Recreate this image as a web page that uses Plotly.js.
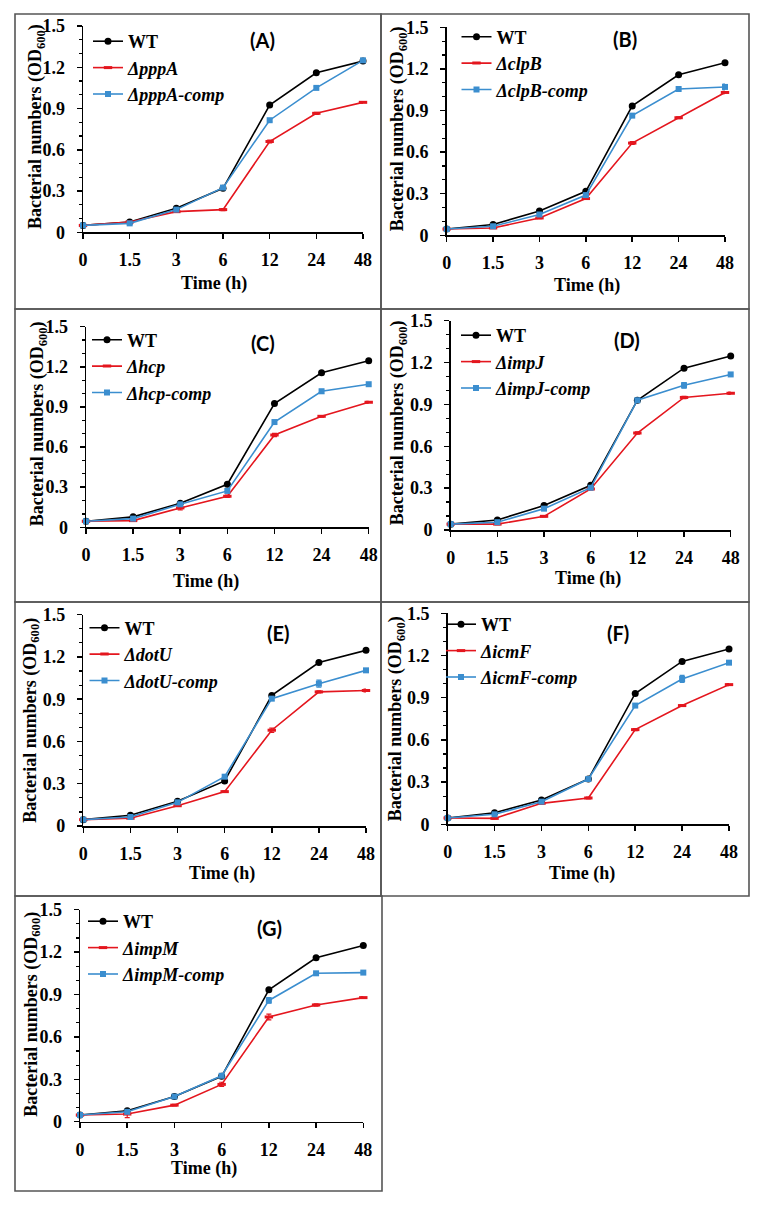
<!DOCTYPE html>
<html>
<head>
<meta charset="utf-8">
<script src="https://cdn.plot.ly/plotly-3.0.1.min.js"></script>
<style>html,body{margin:0;padding:0;background:#fff}#chart{width:763px;height:1206px}</style>
</head>
<body>
<div id="chart"></div>
<script>
// ---------- DATA ----------
const timeLabels = ["0", "1.5", "3", "6", "12", "24", "48"];
const panelLetters = ["(A)", "(B)", "(C)", "(D)", "(E)", "(F)", "(G)"];
const genes = ["pppA", "clpB", "hcp", "impJ", "dotU", "icmF", "impM"];

const wtA   = [0.050, 0.075, 0.175, 0.320, 0.925, 1.160, 1.245];
const mutA  = [0.050, 0.075, 0.150, 0.165, 0.660, 0.865, 0.945];
const compA = [0.050, 0.065, 0.165, 0.325, 0.815, 1.050, 1.250];

const wtB   = [0.045, 0.078, 0.175, 0.317, 0.933, 1.158, 1.245];
const mutB  = [0.045, 0.053, 0.125, 0.265, 0.665, 0.848, 1.030];
const compB = [0.045, 0.065, 0.150, 0.290, 0.863, 1.055, 1.070];

const wtC   = [0.045, 0.078, 0.180, 0.322, 0.925, 1.155, 1.245];
const mutC  = [0.045, 0.050, 0.145, 0.232, 0.690, 0.830, 0.935];
const compC = [0.045, 0.065, 0.172, 0.272, 0.787, 1.017, 1.070];

const wtD   = [0.042, 0.072, 0.175, 0.320, 0.930, 1.160, 1.247];
const mutD  = [0.042, 0.042, 0.098, 0.294, 0.695, 0.950, 0.980];
const compD = [0.042, 0.056, 0.153, 0.303, 0.930, 1.037, 1.115];

const wtE   = [0.045, 0.076, 0.175, 0.320, 0.927, 1.160, 1.247];
const mutE  = [0.045, 0.055, 0.144, 0.244, 0.680, 0.952, 0.962];
const compE = [0.045, 0.064, 0.168, 0.350, 0.904, 1.010, 1.105];

const wtF   = [0.045, 0.082, 0.173, 0.322, 0.930, 1.158, 1.246];
const mutF  = [0.045, 0.042, 0.149, 0.187, 0.673, 0.844, 0.993];
const compF = [0.045, 0.071, 0.161, 0.322, 0.844, 1.033, 1.149];

const wtG   = [0.047, 0.078, 0.178, 0.321, 0.933, 1.160, 1.246];
const mutG  = [0.047, 0.054, 0.117, 0.264, 0.741, 0.826, 0.878];
const compG = [0.047, 0.070, 0.178, 0.325, 0.858, 1.050, 1.055];

// error bars (SD), mostly hidden behind markers
const errWtA = [0.004, 0.005, 0.006, 0.006, 0.008, 0.008, 0.008];
const errMutA = [0.004, 0.004, 0.005, 0.008, 0.010, 0.008, 0.006];
const errCompA = [0.004, 0.004, 0.006, 0.010, 0.010, 0.010, 0.010];
const errWtB = [0.004, 0.005, 0.006, 0.006, 0.010, 0.008, 0.008];
const errMutB = [0.004, 0.004, 0.005, 0.006, 0.010, 0.006, 0.008];
const errCompB = [0.004, 0.004, 0.005, 0.006, 0.010, 0.010, 0.020];
const errWtC = [0.004, 0.005, 0.006, 0.006, 0.008, 0.008, 0.008];
const errMutC = [0.004, 0.004, 0.015, 0.008, 0.012, 0.006, 0.006];
const errCompC = [0.004, 0.004, 0.008, 0.006, 0.010, 0.015, 0.008];
const errWtD = [0.004, 0.005, 0.006, 0.006, 0.008, 0.008, 0.008];
const errMutD = [0.004, 0.004, 0.005, 0.006, 0.008, 0.008, 0.008];
const errCompD = [0.004, 0.004, 0.008, 0.006, 0.012, 0.020, 0.010];
const errWtE = [0.004, 0.005, 0.006, 0.006, 0.008, 0.008, 0.010];
const errMutE = [0.004, 0.004, 0.005, 0.006, 0.015, 0.008, 0.010];
const errCompE = [0.004, 0.004, 0.006, 0.008, 0.010, 0.025, 0.010];
const errWtF = [0.004, 0.005, 0.006, 0.006, 0.008, 0.008, 0.008];
const errMutF = [0.004, 0.004, 0.005, 0.006, 0.008, 0.006, 0.008];
const errCompF = [0.004, 0.004, 0.006, 0.010, 0.010, 0.025, 0.008];
const errWtG = [0.004, 0.005, 0.006, 0.006, 0.008, 0.008, 0.008];
const errMutG = [0.004, 0.025, 0.006, 0.015, 0.020, 0.008, 0.006];
const errCompG = [0.004, 0.004, 0.008, 0.012, 0.020, 0.006, 0.006];

const wtSeries = [wtA, wtB, wtC, wtD, wtE, wtF, wtG];
const mutSeries = [mutA, mutB, mutC, mutD, mutE, mutF, mutG];
const compSeries = [compA, compB, compC, compD, compE, compF, compG];
const wtErr = [errWtA, errWtB, errWtC, errWtD, errWtE, errWtF, errWtG];
const mutErr = [errMutA, errMutB, errMutC, errMutD, errMutE, errMutF, errMutG];
const compErr = [errCompA, errCompB, errCompC, errCompD, errCompE, errCompF, errCompG];

// ---------- LAYOUT GEOMETRY (pixels) ----------
const W = 763, H = 1206;
const px = v => v / W;
const py = v => 1 - v / H;
const geom = [
  {x0: 83,    x1: 363,   yt: 26,    yb: 232.3,  legX: 128,   legY: 68,    let: [262, 40],    xt: [214, 283],   yt2: [36, 127]},
  {x0: 446.7, x1: 725,   yt: 27.3,  yb: 235.3,  legX: 496.5, legY: 63.5,  let: [625, 39.3],  xt: [586.7, 285], yt2: [398.3, 129]},
  {x0: 86,    x1: 368.7, yt: 326.7, yb: 527.3,  legX: 127,   legY: 366.5, let: [263.3, 343.3], xt: [205.7, 581.7], yt2: [39.3, 424]},
  {x0: 450.7, x1: 730.7, yt: 320.7, yb: 530,    legX: 496,   legY: 362,   let: [626.7, 340], xt: [588, 578.3],  yt2: [398.3, 423]},
  {x0: 83.3,  x1: 366,   yt: 614.7, yb: 826,    legX: 124.5, legY: 654.5, let: [278.3, 633.3], xt: [222, 873.3], yt2: [31.7, 720]},
  {x0: 447.7, x1: 729,   yt: 613.3, yb: 824.3,  legX: 481,   legY: 651,   let: [618.3, 633.3], xt: [582.3, 873.3], yt2: [396.7, 718.5]},
  {x0: 80,    x1: 363.3, yt: 909.7, yb: 1121.7, legX: 123,   legY: 948,   let: [269.3, 928.3], xt: [204, 1168.3], yt2: [32.7, 1014]}
];
const boxes = [
  [15, 14, 381, 309], [381, 14, 749, 309],
  [15, 309, 381, 602], [381, 309, 749, 602],
  [15, 602, 381, 896], [381, 602, 749, 896],
  [15, 896, 382, 1191]
];

const RED = '#e4161e', BLUE = '#3b8ecf', BLACK = '#000000';
const serif = 'Liberation Serif';
const tickFont = {family: serif, size: 18, weight: 'bold', color: '#000'};

const data = [];
const layout = {
  width: W, height: H,
  margin: {l: 0, r: 0, t: 0, b: 0},
  paper_bgcolor: '#fff', plot_bgcolor: 'rgba(0,0,0,0)',
  showlegend: true,
  annotations: [], shapes: []
};

geom.forEach((g, i) => {
  const s = i === 0 ? '' : String(i + 1);
  const legName = i === 0 ? 'legend' : 'legend' + (i + 1);
  const common = {x: timeLabels, xaxis: 'x' + s, yaxis: 'y' + s, mode: 'lines+markers',
                  cliponaxis: false, legend: legName, hoverinfo: 'skip'};
  data.push(Object.assign({}, common, {
    y: wtSeries[i], name: 'WT',
    line: {color: BLACK, width: 1.6},
    marker: {symbol: 'circle', size: 7, color: BLACK},
    error_y: {type: 'data', array: wtErr[i], visible: true, color: BLACK, thickness: 1.2, width: 2.5}
  }));
  data.push(Object.assign({}, common, {
    y: mutSeries[i], name: '<i>\u0394' + genes[i] + '</i>',
    line: {color: RED, width: 1.6},
    marker: {symbol: 'line-ew', size: 6, color: RED, line: {color: RED, width: 3}},
    error_y: {type: 'data', array: mutErr[i], visible: true, color: RED, thickness: 1.2, width: 2.5}
  }));
  data.push(Object.assign({}, common, {
    y: compSeries[i], name: '<i>\u0394' + genes[i] + '-comp</i>',
    line: {color: BLUE, width: 1.6},
    marker: {symbol: 'square', size: 6, color: BLUE},
    error_y: {type: 'data', array: compErr[i], visible: true, color: BLUE, thickness: 1.2, width: 2.5}
  }));

  layout['xaxis' + s] = {
    domain: [px(g.x0), px(g.x1)], anchor: 'y' + s,
    type: 'category', categoryorder: 'array', categoryarray: timeLabels,
    range: [0, timeLabels.length - 1],
    showline: true, linecolor: '#000', linewidth: 1.5,
    ticks: 'outside', ticklen: 5, tickwidth: 1.5, tickcolor: '#000',
    tickfont: tickFont, ticklabelstandoff: 6,
    showgrid: false, zeroline: false, fixedrange: true
  };
  layout['yaxis' + s] = {
    domain: [py(g.yb), py(g.yt)], anchor: 'x' + s,
    range: [0, 1.5], tick0: 0, dtick: 0.3,
    showline: true, linecolor: '#000', linewidth: 1.5,
    ticks: 'outside', ticklen: 5, tickwidth: 1.5, tickcolor: '#000',
    minor: {dtick: 0.1, ticks: 'outside', ticklen: 3, tickwidth: 1.2, tickcolor: '#000', showgrid: false},
    tickfont: tickFont, ticklabelstandoff: 8,
    showgrid: false, zeroline: false, fixedrange: true
  };
  layout[legName] = {
    x: px(g.legX - 40), xanchor: 'left', y: py(g.legY), yanchor: 'middle',
    bgcolor: 'rgba(0,0,0,0)', borderwidth: 0,
    font: {family: serif, size: 18, weight: 'bold', color: '#000'},
    traceorder: 'normal'
  };
  layout.annotations.push({
    text: panelLetters[i], xref: 'paper', yref: 'paper', x: px(g.let[0]), y: py(g.let[1]),
    xanchor: 'center', yanchor: 'middle', showarrow: false,
    font: {family: 'Lato', size: 20, weight: 'bold', color: '#000'}
  });
  layout.annotations.push({
    text: 'Time (h)', xref: 'paper', yref: 'paper', x: px(g.xt[0]), y: py(g.xt[1]),
    xanchor: 'center', yanchor: 'middle', showarrow: false,
    font: {family: serif, size: 18, weight: 'bold', color: '#000'}
  });
  layout.annotations.push({
    text: 'Bacterial numbers (OD<sub>600</sub>)', xref: 'paper', yref: 'paper',
    x: px(g.yt2[0]), y: py(g.yt2[1]), textangle: -90,
    xanchor: 'center', yanchor: 'middle', showarrow: false,
    font: {family: serif, size: 18, weight: 'bold', color: '#000'}
  });
});

boxes.forEach(b => {
  layout.shapes.push({type: 'rect', xref: 'paper', yref: 'paper',
    x0: px(b[0]), y0: py(b[1]), x1: px(b[2]), y1: py(b[3]),
    line: {color: '#555555', width: 1.6}, fillcolor: 'rgba(0,0,0,0)', layer: 'below'});
});

Plotly.newPlot('chart', data, layout, {staticPlot: true, displayModeBar: false});
</script>
</body>
</html>
